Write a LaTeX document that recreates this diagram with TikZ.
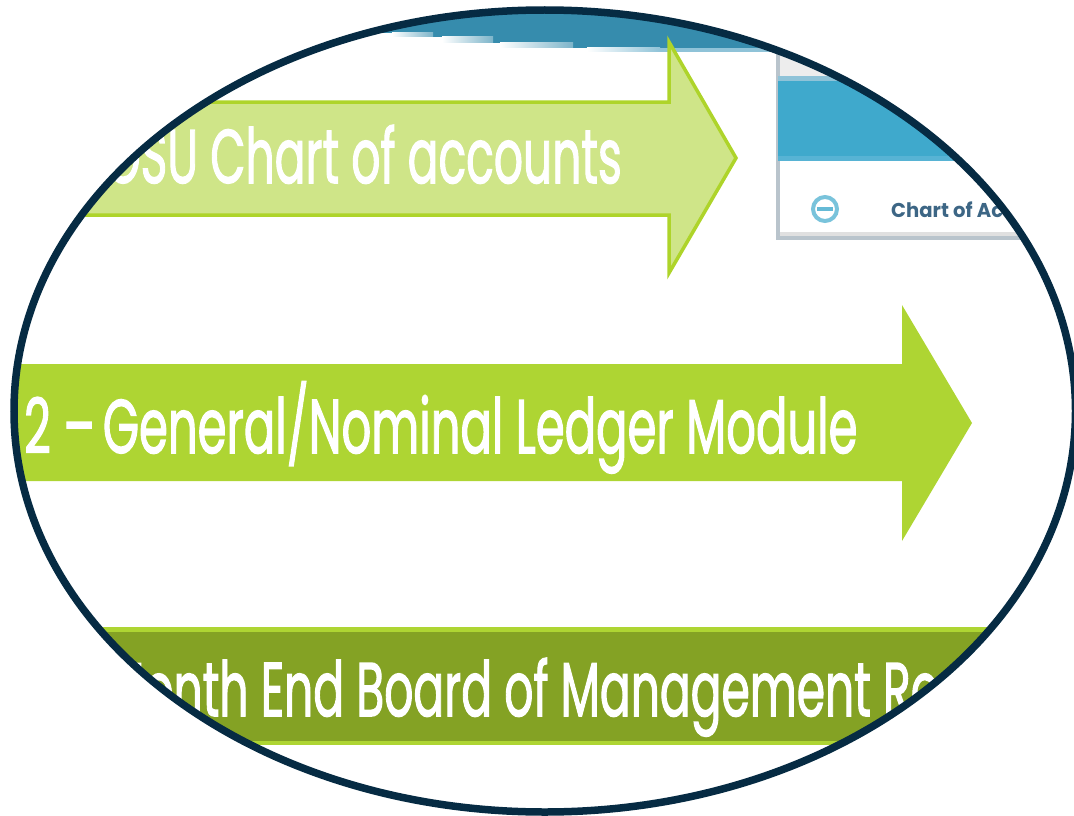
\documentclass[tikz,border=0pt]{standalone}
\usepackage{fontspec}
\setmainfont{Poppins}
\newfontfamily\heavyfont[FakeBold=2]{Poppins}
\definecolor{ringblue}{HTML}{062B43}
\definecolor{limeedge}{HTML}{AED42A}
\definecolor{limepale}{HTML}{CFE588}
\definecolor{limefull}{HTML}{AED533}
\definecolor{limedark}{HTML}{84A224}
\definecolor{bannerteal}{HTML}{368CAD}
\definecolor{bannerpale}{HTML}{8FC3D8}
\definecolor{windowblue}{HTML}{3FA9CC}
\definecolor{windowpale}{HTML}{57B3D4}
\definecolor{windowgrey}{HTML}{B9C4CC}
\definecolor{labelblue}{HTML}{3D6685}
\tikzset{
    bigtext/.style={text=white, font=\heavyfont\fontsize{76}{76}\selectfont, inner sep=0, anchor=base west, xscale=0.6, transform shape},
    windowtext/.style={text=labelblue, font=\bfseries\fontsize{20}{20}\selectfont, inner sep=0, anchor=base west, xscale=0.98, transform shape},
    fadestrip/.style={left color=white, right color=bannerteal!65}
}
\begin{document}
\begin{tikzpicture}[x=1pt, y=-1pt]
            \useasboundingbox (0, 0) rectangle (1074, 816);
            \begin{scope}
                \clip (544.75, 411) ellipse [x radius=530.75, y radius=401];

                % banner along the top
                \fill[bannerteal] (350, 10) -- (790, 10) -- (790, 48) -- (573, 48) -- (573, 43) -- (493, 43) -- (493, 37) -- (433, 37) -- (433, 33) -- (350, 33) -- cycle;
                \shade[fadestrip] (392, 33) rectangle (433, 37);
                \shade[fadestrip] (442, 37) rectangle (493, 43);
                \shade[fadestrip] (500, 43) rectangle (573, 48);
                \shade[left color=white, right color=bannerpale] (587, 48) rectangle (660, 52);
                \fill[bannerpale] (660, 48) rectangle (790, 52);

                % window
                \fill[windowgrey] (776, 54) rectangle (1080, 240);
                \fill[white] (780, 54) rectangle (1080, 236);
                \fill[black!7] (780, 54) rectangle (1080, 76);
                \fill[bannerpale] (778, 76) rectangle (1080, 81);
                \fill[windowblue] (778, 81) rectangle (1080, 156);
                \fill[windowpale] (778, 156) rectangle (1080, 161);
                \fill[black!12] (780, 232) rectangle (1080, 236);
                \draw[windowblue!70, line width=4pt] (825, 209) circle [radius=12];
                \fill[windowblue!80] (817, 207) rectangle (833, 211);
                \node[windowtext] (windowlabel) at (891, 217) {Chart of Ac};

                % arrows and bar
                \draw[limeedge, fill=limepale, line width=3.5pt] (0, 102) -- (669, 102) -- (669, 42) -- (736, 158) -- (669, 273) -- (669, 215) -- (0, 215) -- cycle;
                \fill[limefull] (0, 364) -- (902, 364) -- (902, 305) -- (972, 423) -- (902, 541) -- (902, 481) -- (0, 481) -- cycle;
                \fill[limefull] (0, 627) rectangle (1074, 745);
                \fill[limedark] (0, 632) rectangle (1074, 741);

                \node[bigtext] (charttext) at (105, 183) {GSU Chart of accounts};
                \node[bigtext, xscale=1.02] (ledgertext) at (24, 453) {2 –\hspace{-7pt} General/Nominal Ledger Module};
                \node[bigtext] (boardtext) at (105, 716) {Month End Board of Management Re};
            \end{scope}
            \draw[ringblue, line width=7.5pt] (544.75, 411) ellipse [x radius=530.75, y radius=401];
        \end{tikzpicture}
\end{document}
